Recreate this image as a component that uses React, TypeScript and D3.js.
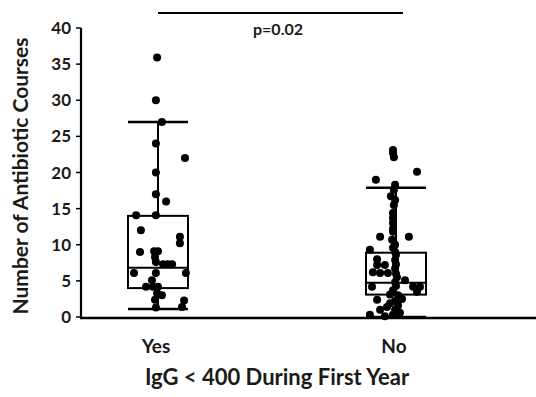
import React from "react";
import * as d3 from "d3";

const categories = ["Yes", "No"];
const yTicks = [0, 5, 10, 15, 20, 25, 30, 35, 40];

// [value, jitter (fraction of half box width)]
const yesPoints: [number, number][] = [
  [35.9, -0.03], [30.0, -0.07], [27.0, 0.13], [24.0, -0.07], [22.0, 0.9], [20.0, -0.07],
  [17.0, -0.07], [16.0, 0.27], [14.1, -0.73], [14.1, -0.07], [12.0, -0.57], [11.1, 0.73],
  [10.2, 0.73], [9.0, -0.6], [9.1, -0.13], [9.1, 0.0], [8.3, -0.1], [7.6, -0.07],
  [7.3, 0.17], [7.3, 0.33], [7.3, 0.47], [6.1, -0.8], [6.1, -0.07], [6.1, 0.93],
  [5.1, -0.2], [4.2, -0.4], [4.2, -0.17], [4.2, 0.0], [3.3, -0.03], [3.0, 0.13],
  [2.4, -0.1], [2.3, 0.87], [1.3, -0.07], [1.4, 0.8],
];

const noPoints: [number, number][] = [
  [23.1, -0.1], [22.7, -0.1], [22.1, -0.07], [20.1, 0.7], [19.0, -0.67], [18.3, -0.03],
  [17.6, -0.07], [16.7, -0.17], [16.2, -0.03], [15.5, -0.07], [14.4, -0.1], [13.7, -0.1],
  [13.0, -0.1], [12.2, -0.1], [11.8, -0.1], [11.1, -0.53], [11.1, 0.43], [10.7, -0.13],
  [10.0, -0.03], [9.6, -0.1], [9.3, -0.87], [9.0, -0.03], [8.6, 0.0], [8.0, -0.63],
  [7.9, -0.03], [7.2, -0.63], [7.2, -0.37], [7.3, 0.0], [6.7, -0.03], [6.2, -0.77],
  [6.1, -0.53], [6.1, -0.27], [6.0, 0.0], [5.5, 0.03], [5.1, 0.3], [4.8, -0.03],
  [4.2, -0.8], [4.2, 0.57], [4.2, 0.8], [4.3, 0.0], [3.5, 0.7], [3.7, -0.1],
  [3.0, 0.07], [3.1, -0.2], [2.5, 0.2], [2.4, -0.63], [2.2, -0.03], [1.9, -0.2],
  [1.6, 0.07], [1.4, -0.3], [1.0, -0.53], [1.0, -0.03], [0.6, 0.13], [0.3, -0.87],
  [0.3, -0.1], [0.1, -0.37],
];

const whiskerLow = [1.1, 0.0];
const q1 = [4.0, 3.1];
const median = [6.8, 4.75];
const q3 = [14.0, 8.9];
const whiskerHigh = [27.0, 17.9];

const pLabel = "p=0.02";
const yTitle = "Number of Antibiotic Courses";
const xTitle = "IgG < 400 During First Year";

const FONT = "Lato, 'Open Sans', sans-serif";

export default function App() {
  const width = 536;
  const height = 397;
  const y = d3.scaleLinear().domain([0, 40]).range([317, 28]);
  const x = d3.scalePoint<string>().domain(categories).range([158, 396]);
  const halfW = 30;
  const axisX = 81;
  const groups = [yesPoints, noPoints];

  return (
    <svg
      width={width}
      height={height}
      style={{ position: "absolute", left: 0, top: 0, background: "#fff" }}
      fontFamily={FONT}
    >
      <rect width={width} height={height} fill="#fff" />
      {/* Y axis */}
      <line x1={axisX} x2={axisX} y1={y(40)} y2={319} stroke="#000" strokeWidth={2.2} />
      {yTicks.map((t) => (
        <g key={t}>
          <line x1={axisX - 5} x2={axisX} y1={y(t)} y2={y(t)} stroke="#000" strokeWidth={1.5} />
          <text
            x={71}
            y={y(t)}
            dy="0.36em"
            textAnchor="end"
            fontSize={17}
            fontWeight={700}
            fill="#1a1a1a"
          >
            {t}
          </text>
        </g>
      ))}
      {/* X axis */}
      <line x1={axisX - 1} x2={width} y1={318} y2={318} stroke="#000" strokeWidth={2.5} />

      {/* Boxes */}
      {categories.map((c, i) => {
        const cx = x(c)!;
        return (
          <g key={c} stroke="#000" strokeWidth={2} fill="none">
            <line x1={cx} x2={cx} y1={y(whiskerHigh[i])} y2={y(q3[i])} />
            <line x1={cx} x2={cx} y1={y(q1[i])} y2={y(whiskerLow[i])} />
            <line x1={cx - halfW} x2={cx + halfW} y1={y(whiskerHigh[i])} y2={y(whiskerHigh[i])} strokeWidth={2.5} />
            <line x1={cx - halfW} x2={cx + halfW} y1={y(whiskerLow[i])} y2={y(whiskerLow[i])} strokeWidth={2.5} />
            <rect x={cx - halfW} y={y(q3[i])} width={halfW * 2} height={y(q1[i]) - y(q3[i])} />
            <line x1={cx - halfW} x2={cx + halfW} y1={y(median[i])} y2={y(median[i])} />
          </g>
        );
      })}

      {/* Points */}
      {categories.map((c, i) => {
        const cx = x(c)!;
        return (
          <g key={"p" + c}>
            {groups[i].map(([v, j], k) => (
              <circle key={k} cx={cx + j * halfW} cy={y(v)} r={4} fill="#000" />
            ))}
          </g>
        );
      })}

      {/* significance */}
      <line x1={x("Yes")} x2={x("No")! + 7} y1={13} y2={13} stroke="#000" strokeWidth={2.2} />
      <text x={278} y={35} textAnchor="middle" fontSize={16} fontWeight={700} fill="#1a1a1a">
        {pLabel}
      </text>

      {/* x labels */}
      {categories.map((c) => (
        <text key={"l" + c} x={x(c)! - 2} y={353} textAnchor="middle" fontSize={19} fontWeight={700} fill="#1a1a1a">
          {c}
        </text>
      ))}
      <text x={277} y={385} textAnchor="middle" fontSize={22} fontWeight={700} fill="#1a1a1a">
        {xTitle}
      </text>
      <text
        transform={`translate(28,${176}) rotate(-90)`}
        textAnchor="middle"
        fontSize={21}
        fontWeight={700}
        fill="#1a1a1a"
      >
        {yTitle}
      </text>
    </svg>
  );
}
